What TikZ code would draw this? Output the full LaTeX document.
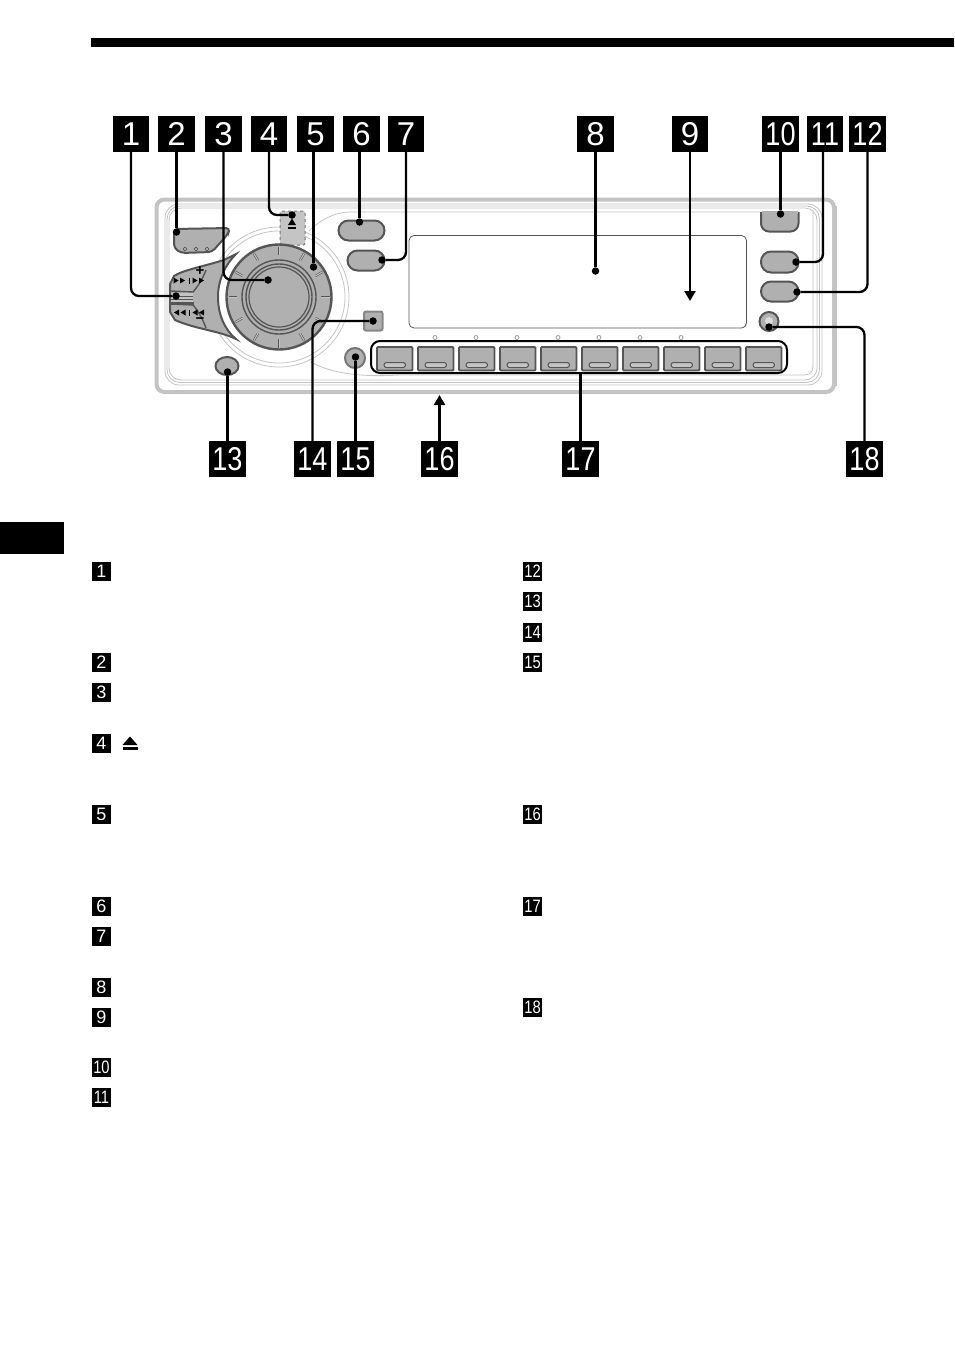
\documentclass[tikz,border=0pt]{standalone}
\usepackage{graphicx}
\usepackage{fontspec}
\setmainfont{Liberation Sans}
\newcommand{\nn}[1]{\scalebox{0.82}[1]{#1}}
\definecolor{btn}{HTML}{B0B0B0}
\definecolor{edge}{HTML}{555555}
\definecolor{pale}{HTML}{C4C4C4}
\usetikzlibrary{arrows.meta}
\tikzset{
 biglabel/.style={fill=black,text=white,minimum width=36.5pt,minimum height=36pt,inner sep=0pt,font=\fontsize{33}{33}\selectfont},
 smalllabel/.style={fill=black,text=white,minimum width=19pt,minimum height=19pt,inner sep=0pt,font=\fontsize{18}{18}\selectfont},
 lead/.style={line width=2.3pt,black,rounded corners=8pt},
 leadarrow/.style={line width=2.3pt,black,-{Triangle[length=10pt,width=11pt]}},
 dotmark/.style={circle,fill=black,minimum size=7.5pt,inner sep=0pt},
 pushbtn/.style={fill=btn,draw=edge,line width=2pt},
 panelline/.style={draw=pale,line width=.8pt},
 presetkey/.style={fill=btn,draw=edge,line width=1.8pt,rounded corners=1pt},
 keyslot/.style={draw=edge,line width=1pt,fill=pale,rounded corners=2.4pt},
 ledmark/.style={draw=pale!80!black,line width=.8pt,fill=white},
}
\begin{document}
\begin{tikzpicture}[x=1pt,y=-1pt]
\useasboundingbox (0,0) rectangle (954,1352);
% page furniture
\fill[black] (91,38) rectangle (954,47);
\fill[black] (0,522) rectangle (64,554);
% housing
\draw[pale,line width=4pt,rounded corners=8pt] (156.5,199.5) rectangle (834,392);
\draw[pale,line width=3pt] (835.5,206) -- (835.5,386);
\draw[panelline,rounded corners=14pt] (165,204) rectangle (822,385);
\draw[panelline,rounded corners=13pt] (167,206) rectangle (819.5,382.5);
\draw[panelline,rounded corners=12pt] (169,208) rectangle (817,380);
\draw[panelline] (760,212) -- (350,212) .. controls (335,212) and (320,220) .. (309,231);
\draw[panelline] (813,212) -- (813,366) .. controls (813,372) and (810,375) .. (804,375) -- (400,375) .. controls (350,378) and (325,370) .. (311,362);
% knob surround
\draw[pale,line width=.8pt] (279,297) circle[radius=66pt];
\draw[pale,line width=.8pt] (279,297) circle[radius=70pt];
% eject key
\draw[fill=pale,draw=edge!80,line width=1pt,dashed,rounded corners=2pt] (280,211) rectangle (305,245);
\fill[black] (292,218.5) -- (296,225) -- (288,225) -- cycle;
\fill[black] (288,227) rectangle (296,228.5);
% key 2
\draw[pushbtn,rounded corners=4pt] (174,229) -- (230,228) -- (228,234) -- (212,252) -- (181,253) -- (174,248) -- cycle;
\foreach \x in {185,196,207}{\draw[edge,line width=.7pt,fill=pale] (\x,249) circle[radius=1.8pt];}
% rocker
\draw[pushbtn] (236,254) -- (224,260) .. controls (205,266) and (183,270) .. (174,276) -- (170,284) -- (170,312) -- (175,320) .. controls (195,329) and (220,331) .. (236,339) .. controls (225,330) and (218,315) .. (218,297) .. controls (218,280) and (225,265) .. (236,254) -- cycle;
\draw[edge,line width=1.4pt] (171,291) -- (193,292) .. controls (199,285) and (203,278) .. (206,270);
\draw[edge,line width=1.4pt] (171,304) -- (193,305) .. controls (199,312) and (203,320) .. (206,328);
\fill[pale] (171,293) rectangle (193,302);
\draw[edge,line width=1pt] (171,296) -- (193,296) (171,299.5) -- (193,299.5);
\fill[edge] (171,302) rectangle (194,305);
\foreach \x in {173.5,180,192.5,199}{\fill[black] (\x,277.5) -- (\x+5,280.5) -- (\x,283.5) -- cycle;}
\fill[black] (188.5,277.5) rectangle (189.8,283.5);
\foreach \x in {179,185.5,197.5,204}{\fill[black] (\x,309.5) -- (\x-5,312.5) -- (\x,315.5) -- cycle;}
\fill[black] (188.5,309.5) rectangle (189.8,315.5);
\node[font=\bfseries\fontsize{15}{15}\selectfont,inner sep=0pt] (plus) at (200,271.5) {+};
\node[font=\bfseries\fontsize{15}{15}\selectfont,inner sep=0pt] (minus) at (200,321) {\textminus};
% knob
\draw[fill=btn,draw=edge,line width=2.4pt] (279,297) circle[radius=52.5pt];
\foreach \a in {0,30,...,330}{
  \draw[edge,line width=2.2pt] (\a:42pt) ++(279,297) -- ++(\a:8.5pt);
  \draw[pale,line width=1pt] (\a:42pt) ++(279,297) -- ++(\a:8.5pt);
}
\draw[fill=btn,draw=edge,line width=1.4pt] (279,297) circle[radius=37pt];
\draw[draw=edge,line width=1.4pt] (279,297) circle[radius=33pt];
\draw[draw=edge,line width=1.2pt] (279,297) circle[radius=30pt];
% other round keys
\draw[pushbtn,rounded corners=10pt] (338.5,220.5) rectangle (384.5,240.5);
\draw[pushbtn,rounded corners=10pt] (347.5,250.5) rectangle (384.5,270.5);
\draw[pushbtn] (227,366) ellipse[x radius=11.5pt,y radius=9pt];
\draw[pushbtn,fill=btn,draw=edge!70,rounded corners=2pt] (364,311.5) rectangle (382.5,330.5);
\draw[pushbtn,draw=edge!80] (355,358) circle[radius=10pt];
% display
\draw[edge,line width=.8pt,rounded corners=5pt] (409,235.5) rectangle (746.5,328);
% right keys
\draw[pushbtn,rounded corners=8pt] (761,212) -- (761,231.5) -- (798.5,231.5) -- (798.5,212);
\fill[btn] (762,211) rectangle (797.5,214);
\draw[pushbtn,rounded corners=10pt] (761,251.5) rectangle (798.5,272.5);
\draw[pushbtn,rounded corners=10pt] (761,281.5) rectangle (798.5,301.5);
\draw[pushbtn] (769,321.5) circle[radius=9.5pt];
\fill[pale!60] (769,321) circle[radius=4pt];
% LEDs
\foreach \i in {0,...,6}{\draw[ledmark] ({435+41*\i},337.5) circle[radius=2pt];}
% preset bar
\draw[black,line width=2pt,rounded corners=9pt,fill=white] (371,341) rectangle (787,373);
\foreach \i in {0,...,9}{
  \draw[presetkey] ({377+41*\i},347) rectangle ({412.5+41*\i},370.5);
  \draw[keyslot] ({384+41*\i},362.5) rectangle ({405.5+41*\i},367.5);
}
% callout labels
\node[biglabel] (l1) at (131,134) {1};
\node[biglabel] (l2) at (176.5,134) {2};
\node[biglabel] (l3) at (223.5,134) {3};
\node[biglabel] (l4) at (269,134) {4};
\node[biglabel] (l5) at (315.5,134) {5};
\node[biglabel] (l6) at (361.5,134) {6};
\node[biglabel] (l7) at (406,134) {7};
\node[biglabel] (l8) at (595.5,134) {8};
\node[biglabel] (l9) at (690,134) {9};
\node[biglabel] (l10) at (780.5,134) {\nn{10}};
\node[biglabel] (l11) at (825,134) {\nn{11}};
\node[biglabel] (l12) at (867.5,134) {\nn{12}};
\node[biglabel] (l13) at (227.5,459) {\nn{13}};
\node[biglabel] (l14) at (312.5,459) {\nn{14}};
\node[biglabel] (l15) at (355.5,459) {\nn{15}};
\node[biglabel] (l16) at (439.5,459) {\nn{16}};
\node[biglabel] (l17) at (580.5,459) {\nn{17}};
\node[biglabel] (l18) at (864.5,459) {\nn{18}};
% connector ends
\node[dotmark] (d1) at (176,296) {};
\node[dotmark] (d2) at (176.5,232) {};
\node[dotmark] (d3) at (268,280) {};
\node[dotmark] (d4) at (292,215) {};
\node[dotmark] (d5) at (313.5,267) {};
\node[dotmark] (d6) at (359.5,222) {};
\node[dotmark] (d7) at (382,260) {};
\node[dotmark] (d8) at (595.5,271) {};
\node[dotmark] (d10) at (780.5,214) {};
\node[dotmark] (d11) at (796,262) {};
\node[dotmark] (d12) at (797,292) {};
\node[dotmark] (d13) at (227.5,372) {};
\node[dotmark] (d14) at (373,321) {};
\node[dotmark] (d15) at (355.5,357) {};
\node[dotmark] (d18) at (769,327) {};
\coordinate (t9) at (690,301);
\coordinate (t16) at (439.5,395);
\coordinate (t17) at (580.5,373);
% connectors
\draw[lead] (l1.south) |- (d1);
\draw[lead] (l2.south) -- (d2);
\draw[lead] (l3.south) |- (d3);
\draw[lead] (l4.south) |- (d4);
\draw[lead] ([xshift=-2pt]l5.south) -- (d5);
\draw[lead] ([xshift=-2pt]l6.south) -- (d6);
\draw[lead] (l7.south) |- (d7);
\draw[lead] (l8.south) -- (d8);
\draw[leadarrow] (l9.south) -- (t9);
\draw[lead] (l10.south) -- (d10);
\draw[lead] ([xshift=-2pt]l11.south) |- (d11);
\draw[lead] (l12.south) |- (d12);
\draw[lead] (l13.north) -- (d13);
\draw[lead] (l14.north) |- (d14);
\draw[lead] (l15.north) -- (d15);
\draw[leadarrow] (l16.north) -- (t16);
\draw[lead] (l17.north) -- (t17);
\draw[lead] (l18.north) |- (d18);
% list markers
\foreach \n/\y/\t in {a1/571/1,a2/662/2,a3/692/3,a4/743/4,a5/814/5,a6/906/6,a7/936/7,a8/987/8,a9/1017/9,a10/1067/\nn{10},a11/1097/\nn{11}}{
  \node[smalllabel] (\n) at (101.5,\y) {\t};
}
\foreach \n/\y/\t in {b12/571/\nn{12},b13/601/\nn{13},b14/632/\nn{14},b15/662/\nn{15},b16/814/\nn{16},b17/906/\nn{17},b18/1007/\nn{18}}{
  \node[smalllabel] (\n) at (532.5,\y) {\t};
}
% eject symbol in list
\fill[black] (130,736.5) -- (137.5,745) -- (122.5,745) -- cycle;
\fill[black] (123,747) rectangle (137.5,750);
\end{tikzpicture}
\end{document}
